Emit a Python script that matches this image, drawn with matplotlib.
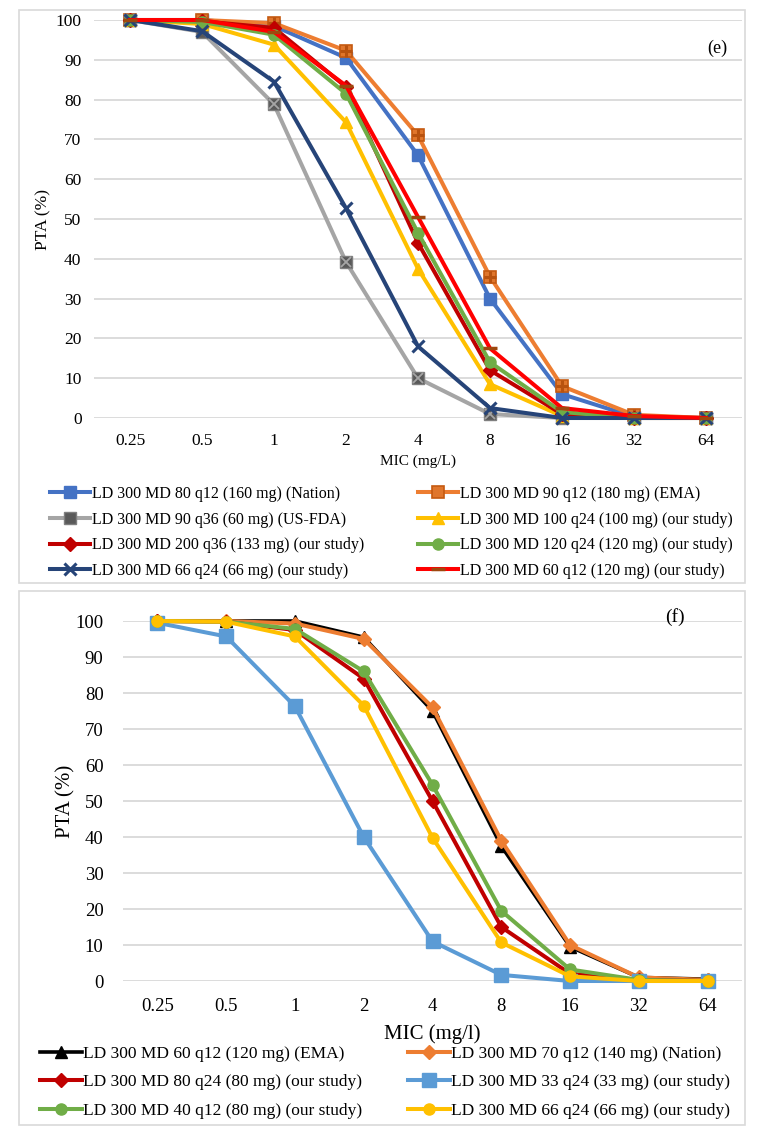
import matplotlib
matplotlib.use("Agg")
import matplotlib.pyplot as plt
from matplotlib.patches import Rectangle

plt.rcParams['font.family'] = ['Liberation Serif', 'DejaVu Serif']

mic_labels = ["0.25", "0.5", "1", "2", "4", "8", "16", "32", "64"]

# Panel (e)
e_labels = [
    "LD 300 MD 80 q12 (160 mg) (Nation)",
    "LD 300 MD 90 q12 (180 mg) (EMA)",
    "LD 300 MD 90 q36 (60 mg) (US-FDA)",
    "LD 300 MD 100 q24 (100 mg) (our study)",
    "LD 300 MD 200 q36 (133 mg) (our study)",
    "LD 300 MD 120 q24 (120 mg) (our study)",
    "LD 300 MD 66 q24 (66 mg) (our study)",
    "LD 300 MD 60 q12 (120 mg) (our study)",
]
e_nation = [100, 100, 98.5, 90.5, 66, 30, 6, 0.3, 0]
e_ema = [100, 100, 99.2, 92.3, 71, 35.5, 8, 0.8, 0]
e_fda = [100, 97, 78.8, 39.2, 10, 1, 0, 0, 0]
e_100q24 = [100, 99, 93.8, 74.3, 37.5, 8.5, 0.5, 0, 0]
e_200q36 = [100, 99.7, 98, 83.2, 44, 12, 1, 0, 0]
e_120q24 = [100, 99.5, 96.3, 81.5, 46.5, 14, 1.5, 0, 0]
e_66q24 = [100, 97.2, 84.5, 52.7, 18, 2.5, 0, 0, 0]
e_60q12 = [100, 100, 97, 83.5, 50.5, 17.5, 2.5, 0.5, 0]

# Panel (f)
f_labels = [
    "LD 300 MD 60 q12 (120 mg) (EMA)",
    "LD 300 MD 70 q12 (140 mg) (Nation)",
    "LD 300 MD 80 q24 (80 mg) (our study)",
    "LD 300 MD 33 q24 (33 mg) (our study)",
    "LD 300 MD 40 q12 (80 mg) (our study)",
    "LD 300 MD 66 q24 (66 mg) (our study)",
]
f_ema = [100, 100, 100, 95.5, 75, 37.5, 9.5, 1, 0.5]
f_nation = [100, 100, 99.3, 95, 76, 39, 10, 1, 0.3]
f_80q24 = [100, 99.8, 97.5, 84, 50, 15, 2, 0.3, 0]
f_33q24 = [99.5, 95.7, 76.3, 40, 11, 1.7, 0, 0, 0]
f_40q12 = [100, 99.8, 97.8, 86, 54.5, 19.5, 3.2, 0.3, 0]
f_66q24 = [100, 99.8, 95.7, 76.5, 39.8, 10.7, 1.3, 0, 0]

W, H = 769, 1135
fig = plt.figure(figsize=(W / 100, H / 100), dpi=100)


def fx(px):
    return px / W


def fy(py):
    return 1 - py / H


# panel boxes
for (x0, y0, x1, y1) in [(19, 10, 745, 583), (19, 591, 745, 1125)]:
    fig.patches.append(Rectangle((fx(x0), fy(y1)), fx(x1) - fx(x0), fy(y0) - fy(y1),
                                 transform=fig.transFigure, fill=False,
                                 edgecolor="#D9D9D9", linewidth=1.2, zorder=0))

grid_c = "#D9D9D9"


def setup_axes(ax, tick_fs, ypad, xpad):
    ax.set_xlim(-0.5, 8.5)
    ax.set_ylim(0, 100)
    ax.set_yticks(range(0, 101, 10))
    ax.set_xticks(range(9))
    ax.set_xticklabels(mic_labels)
    for s in ax.spines.values():
        s.set_visible(False)
    ax.tick_params(length=0, labelsize=tick_fs, colors="#000000")
    ax.tick_params(axis='y', pad=ypad)
    ax.tick_params(axis='x', pad=xpad)
    ax.yaxis.grid(True, color=grid_c, linewidth=1.3)
    ax.set_axisbelow(True)


x = list(range(9))

# ---------- panel e ----------
axe = fig.add_axes([fx(94), fy(418), fx(742) - fx(94), fy(20) - fy(418)])
setup_axes(axe, 12.5, 9, 11)
lw = 2.9
kw = dict(clip_on=False, linewidth=lw)
h = []
h.append(axe.plot(x, e_nation, color="#4472C4", marker="s", ms=8, mec="#4472C4", **kw)[0])
h.append(axe.plot(x, e_ema, color="#ED7D31", marker="s", ms=9, mfc="#E0762C", mec="#C55A11", mew=1.2, **kw)[0])
axe.plot(x, e_ema, linestyle="none", marker="+", ms=8, mec="#B8520F", mew=2.2, clip_on=False)
h.append(axe.plot(x, e_fda, color="#A5A5A5", marker="s", ms=9, mfc="#595959", mec="#7F7F7F", **kw)[0])
axe.plot(x, e_fda, linestyle="none", marker="x", ms=7, mec="#A5A5A5", mew=1.3, clip_on=False)
h.append(axe.plot(x, e_100q24, color="#FFC000", marker="^", ms=9, mec="#FFC000", **kw)[0])
h.append(axe.plot(x, e_200q36, color="#C00000", marker="D", ms=7, mec="#C00000", **kw)[0])
h.append(axe.plot(x, e_120q24, color="#70AD47", marker="o", ms=8, mec="#70AD47", **kw)[0])
h.append(axe.plot(x, e_66q24, color="#264478", marker="x", ms=9, mec="#264478", mew=2.2, **kw)[0])
h.append(axe.plot(x, e_60q12, color="#FF0000", marker="_", ms=10, mec="#9E480E", mew=2.5, **kw)[0])

axe.set_ylabel("PTA (%)", fontsize=12.5, labelpad=3)
axe.set_xlabel("MIC (mg/L)", fontsize=11, labelpad=4)
axe.text(fx(717), fy(48), "(e)", transform=fig.transFigure, fontsize=13,
         ha="center", va="center")

leg_kw = dict(frameon=False, handlelength=2.5, handletextpad=0.1, borderpad=0,
              borderaxespad=0, labelspacing=0.6, loc="upper left", fontsize=11.5)
fig.legend([h[i] for i in (0, 2, 4, 6)], [e_labels[i] for i in (0, 2, 4, 6)],
           bbox_to_anchor=(fx(50), fy(486)), **leg_kw)
fig.legend([h[i] for i in (1, 3, 5, 7)], [e_labels[i] for i in (1, 3, 5, 7)],
           bbox_to_anchor=(fx(418), fy(486)), **leg_kw)

# ---------- panel f ----------
axf = fig.add_axes([fx(123), fy(981), fx(742) - fx(123), fy(621) - fy(981)])
setup_axes(axf, 13.5, 14, 12)
g = []
g.append(axf.plot(x, f_ema, color="#000000", marker="^", ms=8, mec="#000000", clip_on=False, linewidth=2.6)[0])
g.append(axf.plot(x, f_nation, color="#ED7D31", marker="D", ms=7, mec="#ED7D31", **kw)[0])
g.append(axf.plot(x, f_80q24, color="#C00000", marker="D", ms=7, mec="#C00000", **kw)[0])
g.append(axf.plot(x, f_33q24, color="#5B9BD5", marker="s", ms=10, mec="#5B9BD5", **kw)[0])
g.append(axf.plot(x, f_40q12, color="#70AD47", marker="o", ms=8, mec="#70AD47", **kw)[0])
g.append(axf.plot(x, f_66q24, color="#FFC000", marker="o", ms=8, mec="#FFC000", **kw)[0])

axf.set_ylabel("PTA (%)", fontsize=15, labelpad=0)
axf.set_xlabel("MIC (mg/l)", fontsize=15, labelpad=7)
axf.text(fx(675), fy(617), "(f)", transform=fig.transFigure, fontsize=14,
         ha="center", va="center")

leg_kw2 = dict(leg_kw)
leg_kw2.update(fontsize=12.5, handlelength=2.4, labelspacing=0.7)
fig.legend([g[i] for i in (0, 2, 4)], [f_labels[i] for i in (0, 2, 4)],
           bbox_to_anchor=(fx(40), fy(1046)), **leg_kw2)
fig.legend([g[i] for i in (1, 3, 5)], [f_labels[i] for i in (1, 3, 5)],
           bbox_to_anchor=(fx(408), fy(1046)), **leg_kw2)

fig.savefig("out.png", dpi=100)
